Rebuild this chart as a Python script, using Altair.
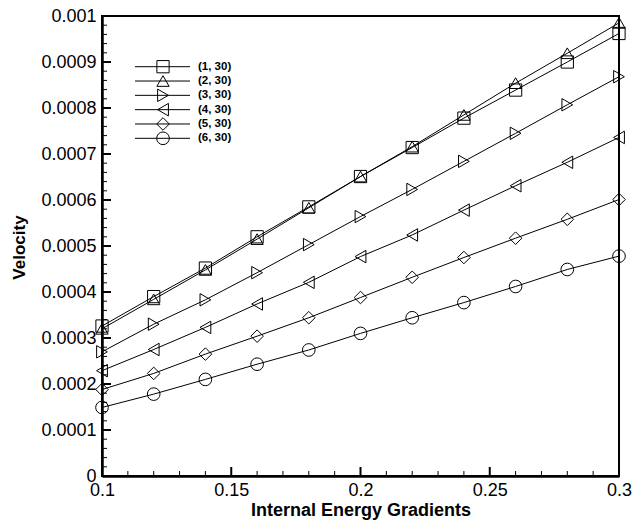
import altair as alt
import pandas as pd

# ---- data ----
x_vals = [0.10, 0.12, 0.14, 0.16, 0.18, 0.20, 0.22, 0.24, 0.26, 0.28, 0.30]
series_names = ["(1, 30)", "(2, 30)", "(3, 30)", "(4, 30)", "(5, 30)", "(6, 30)"]
s1 = [0.000326, 0.000390, 0.000452, 0.000520, 0.000585, 0.000651, 0.000714, 0.000778, 0.000839, 0.000900, 0.000962]
s2 = [0.000320, 0.000384, 0.000448, 0.000515, 0.000583, 0.000651, 0.000716, 0.000785, 0.000854, 0.000919, 0.000985]
s3 = [0.000270, 0.000330, 0.000383, 0.000442, 0.000503, 0.000564, 0.000623, 0.000684, 0.000745, 0.000807, 0.000868]
s4 = [0.000229, 0.000275, 0.000323, 0.000374, 0.000421, 0.000477, 0.000524, 0.000578, 0.000631, 0.000682, 0.000736]
s5 = [0.000188, 0.000223, 0.000265, 0.000304, 0.000344, 0.000388, 0.000432, 0.000475, 0.000517, 0.000558, 0.000601]
s6 = [0.000149, 0.000178, 0.000210, 0.000243, 0.000274, 0.000310, 0.000344, 0.000377, 0.000412, 0.000449, 0.000478]
shapes = ["square", "triangle-up", "triangle-right", "triangle-left", "diamond", "circle"]
marker_sizes = [150, 160, 160, 160, 180, 230]

x_major = [0.1, 0.15, 0.2, 0.25, 0.3]
x_minor = [0.11, 0.12, 0.13, 0.14, 0.16, 0.17, 0.18, 0.19, 0.21, 0.22, 0.23, 0.24, 0.26, 0.27, 0.28, 0.29]
y_major = [0.0, 0.0001, 0.0002, 0.0003, 0.0004, 0.0005, 0.0006, 0.0007, 0.0008, 0.0009, 0.001]
y_minor = [round(v * 0.00002, 6) for v in range(51) if v % 5 != 0]

rows = []
for name, vals in zip(series_names, [s1, s2, s3, s4, s5, s6]):
    for xv, yv in zip(x_vals, vals):
        rows.append({"x": xv, "y": yv, "series": name})
df = pd.DataFrame(rows)
leg_df = pd.DataFrame({"series": series_names})

W, H = 517, 460
FONT = "Liberation Sans"

xscale = alt.Scale(domain=[0.1, 0.3], nice=False, zero=False)
yscale = alt.Scale(domain=[0, 0.001], nice=False, zero=False)
shape_scale = alt.Scale(domain=series_names, range=shapes)
size_scale = alt.Scale(domain=series_names, range=marker_sizes)

xax = alt.Axis(values=x_major, format="~g", ticks=False, grid=False, domainWidth=2.5,
               domainColor="black", labelFont=FONT, labelFontSize=18, labelColor="black",
               labelPadding=5, title="Internal Energy Gradients", titleFont=FONT,
               titleFontSize=18, titleFontWeight="bold", titleColor="black", titlePadding=2,
               labelFlush=False, labelOverlap=False)
yax = alt.Axis(values=y_major, format="~g", ticks=False, grid=False, domainWidth=2.5,
               domainColor="black", labelFont=FONT, labelFontSize=18, labelColor="black",
               labelPadding=6, title="Velocity", titleFont=FONT, titleFontSize=17,
               titleFontWeight="bold", titleColor="black", titleX=-74, titleY=231,
               labelFlush=False, labelOverlap=False)

X = lambda f: alt.X(f, scale=xscale, axis=xax)

lines = alt.Chart(df).mark_line(color="black", strokeWidth=1).encode(
    x=X("x:Q"),
    y=alt.Y("y:Q", scale=yscale, axis=yax),
    detail="series:N",
)
points = alt.Chart(df).mark_point(filled=False, color="black", strokeWidth=1, opacity=1).encode(
    x=X("x:Q"),
    y=alt.Y("y:Q", scale=yscale, axis=None),
    shape=alt.Shape("series:N", scale=shape_scale, legend=None),
    size=alt.Size("series:N", scale=size_scale, legend=None),
)

# tick marks (inward)
ytm = pd.DataFrame({"v": y_major})
ytn = pd.DataFrame({"v": y_minor})
xtm = pd.DataFrame({"v": x_major})
xtn = pd.DataFrame({"v": x_minor})
ytick_major = alt.Chart(ytm).mark_rule(color="black", strokeWidth=2).encode(
    y=alt.Y("v:Q", scale=yscale, axis=None), x=alt.value(0), x2=alt.value(9))
ytick_minor = alt.Chart(ytn).mark_rule(color="black", strokeWidth=1).encode(
    y=alt.Y("v:Q", scale=yscale, axis=None), x=alt.value(0), x2=alt.value(5))
xtick_major = alt.Chart(xtm).mark_rule(color="black", strokeWidth=2).encode(
    x=X("v:Q"), y=alt.value(H), y2=alt.value(H - 9))
xtick_minor = alt.Chart(xtn).mark_rule(color="black", strokeWidth=1).encode(
    x=X("v:Q"), y=alt.value(H), y2=alt.value(H - 5))

# manual legend
leg_y = alt.Y("series:N", scale=alt.Scale(type="point", domain=series_names, range=[50.7, 122.3], padding=0), axis=None)
leg_lines = alt.Chart(leg_df).mark_rule(color="black", strokeWidth=1).encode(
    y=leg_y, x=alt.value(33), x2=alt.value(88))
leg_pts = alt.Chart(leg_df).mark_point(filled=False, color="black", strokeWidth=1, opacity=1).encode(
    y=leg_y, x=alt.value(61),
    shape=alt.Shape("series:N", scale=shape_scale, legend=None),
    size=alt.Size("series:N", scale=size_scale, legend=None))
leg_text = alt.Chart(leg_df).mark_text(align="left", baseline="middle", font=FONT, fontSize=11.5,
                                       fontWeight="bold", color="black").encode(
    y=leg_y, x=alt.value(96), text="series:N")

chart = alt.layer(
    lines, xtick_minor, xtick_major, ytick_minor, ytick_major, points, leg_lines, leg_pts, leg_text
).resolve_scale(y="independent").properties(
    width=W, height=H,
    background="white",
    autosize=alt.AutoSizeParams(type="none"),
    padding={"left": 102, "top": 16, "right": 14, "bottom": 46},
).configure_view(stroke="black", strokeWidth=2)

chart.save("out.html", embed_options={"renderer": "svg", "actions": False})
